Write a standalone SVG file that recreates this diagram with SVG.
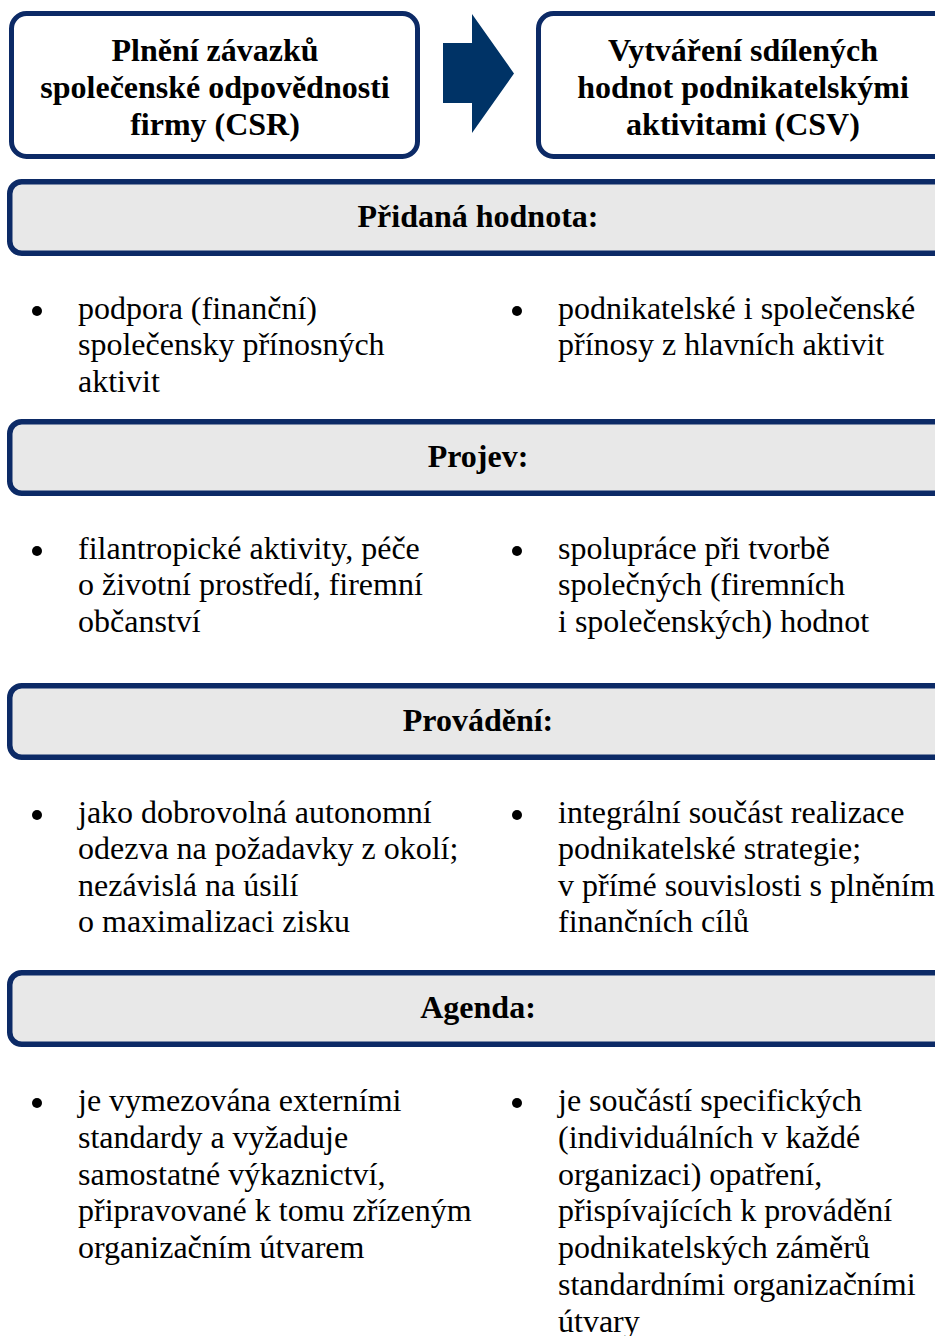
<svg xmlns="http://www.w3.org/2000/svg" width="935" height="1336" viewBox="0 0 935 1336">
<style>
.box{fill:#ffffff;stroke:#0c2a66;stroke-width:5}
.bar{fill:#e8e8e8;stroke:#0c2a66;stroke-width:5.5}
.t{font-family:"Liberation Serif","Times New Roman",serif;font-size:32px;fill:#000}
.b{font-weight:bold;text-anchor:middle}
.dot{fill:#000}
</style>
<rect width="935" height="1336" fill="#fff"/>
<g id="csr">
<rect class="box" x="11.5" y="13.5" width="406" height="143" rx="15"/>
<text class="t b" x="215" y="61">Plnění závazků</text>
<text class="t b" x="215" y="98">společenské odpovědnosti</text>
<text class="t b" x="215" y="135">firmy (CSR)</text>
</g>
<g id="connectors">
<polygon points="443,43 472,43 472,14 514,73.5 472,133 472,103 443,103" fill="#003366"/>
</g>
<g id="csv">
<rect class="box" x="538.5" y="13.5" width="410" height="143" rx="15"/>
<text class="t b" x="743" y="61">Vytváření sdílených</text>
<text class="t b" x="743" y="98">hodnot podnikatelskými</text>
<text class="t b" x="743" y="135">aktivitami (CSV)</text>
</g>
<g id="pridana">
<rect class="bar" x="9.75" y="181.75" width="945" height="71.5" rx="12"/>
<text class="t b" x="478" y="227">Přidaná hodnota:</text>
</g>
<g id="pridana-items">
<circle class="dot" cx="37" cy="311" r="5"/>
<text class="t" x="78" y="319">podpora (finanční)</text>
<text class="t" x="78" y="355">společensky přínosných</text>
<text class="t" x="78" y="392">aktivit</text>
<circle class="dot" cx="517" cy="311" r="5"/>
<text class="t" x="558" y="319">podnikatelské i společenské</text>
<text class="t" x="558" y="355">přínosy z hlavních aktivit</text>
</g>
<g id="projev">
<rect class="bar" x="9.75" y="421.75" width="945" height="71.5" rx="12"/>
<text class="t b" x="478" y="467">Projev:</text>
</g>
<g id="projev-items">
<circle class="dot" cx="37" cy="551" r="5"/>
<text class="t" x="78" y="559">filantropické aktivity, péče</text>
<text class="t" x="78" y="595">o životní prostředí, firemní</text>
<text class="t" x="78" y="632">občanství</text>
<circle class="dot" cx="517" cy="551" r="5"/>
<text class="t" x="558" y="559">spolupráce při tvorbě</text>
<text class="t" x="558" y="595">společných (firemních</text>
<text class="t" x="558" y="632">i společenských) hodnot</text>
</g>
<g id="provadeni">
<rect class="bar" x="9.75" y="685.75" width="945" height="71.5" rx="12"/>
<text class="t b" x="478" y="731">Provádění:</text>
</g>
<g id="provadeni-items">
<circle class="dot" cx="37" cy="815" r="5"/>
<text class="t" x="78" y="823">jako dobrovolná autonomní</text>
<text class="t" x="78" y="859">odezva na požadavky z okolí;</text>
<text class="t" x="78" y="896">nezávislá na úsilí</text>
<text class="t" x="78" y="932">o maximalizaci zisku</text>
<circle class="dot" cx="517" cy="815" r="5"/>
<text class="t" x="558" y="823">integrální součást realizace</text>
<text class="t" x="558" y="859">podnikatelské strategie;</text>
<text class="t" x="558" y="896">v přímé souvislosti s plněním</text>
<text class="t" x="558" y="932">finančních cílů</text>
</g>
<g id="agenda">
<rect class="bar" x="9.75" y="972.75" width="945" height="71.5" rx="12"/>
<text class="t b" x="478" y="1018">Agenda:</text>
</g>
<g id="agenda-items">
<circle class="dot" cx="37" cy="1103" r="5"/>
<text class="t" x="78" y="1111">je vymezována externími</text>
<text class="t" x="78" y="1148">standardy a vyžaduje</text>
<text class="t" x="78" y="1185">samostatné výkaznictví,</text>
<text class="t" x="78" y="1221">připravované k tomu zřízeným</text>
<text class="t" x="78" y="1258">organizačním útvarem</text>
<circle class="dot" cx="517" cy="1103" r="5"/>
<text class="t" x="558" y="1111">je součástí specifických</text>
<text class="t" x="558" y="1148">(individuálních v každé</text>
<text class="t" x="558" y="1185">organizaci) opatření,</text>
<text class="t" x="558" y="1221">přispívajících k provádění</text>
<text class="t" x="558" y="1258">podnikatelských záměrů</text>
<text class="t" x="558" y="1295">standardními organizačními</text>
<text class="t" x="558" y="1332">útvary</text>
</g>
</svg>
